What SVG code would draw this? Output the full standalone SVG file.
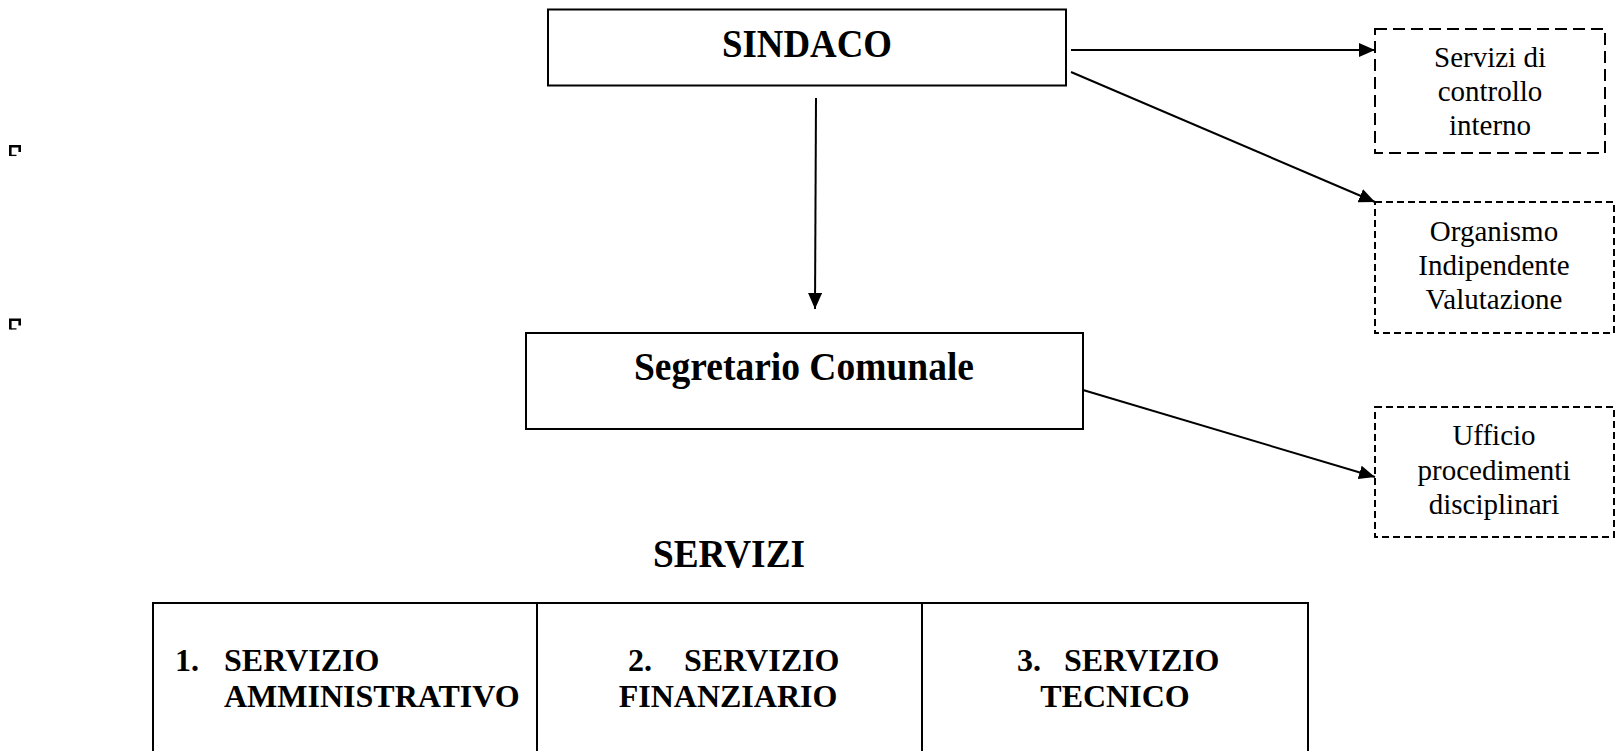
<svg xmlns="http://www.w3.org/2000/svg" width="1617" height="751" viewBox="0 0 1617 751">
<style>
.box{fill:#fff;stroke:#000;stroke-width:2}
.dash1{fill:#fff;stroke:#000;stroke-width:2;stroke-dasharray:12 6}
.dash2{fill:#fff;stroke:#000;stroke-width:2;stroke-dasharray:7 4}
.big{font-family:"Liberation Serif","Times New Roman",serif;font-weight:bold;fill:#000}
.small{font-family:"Liberation Serif","Times New Roman",serif;font-size:29px;fill:#000;text-anchor:middle}
.tab{font-family:"Liberation Serif","Times New Roman",serif;font-weight:bold;font-size:32px;fill:#000}
.conn{stroke:#000;stroke-width:2;fill:none}
.mark{stroke:#000;fill:none}
</style>
<defs>
<marker id="arr" markerUnits="userSpaceOnUse" markerWidth="16" markerHeight="14" refX="16" refY="7" orient="auto">
<path d="M0 0 L16 7 L0 14 Z" fill="#000"/>
</marker>
</defs>
<rect width="1617" height="751" fill="#fff"/>

<g id="marks">
<path class="mark" stroke-width="2.6" d="M10.3 156 V146.3 H19.7 V152"/>
<path class="mark" stroke-width="1.3" d="M11 155.4 H16.5"/>
<path class="mark" stroke-width="2.6" d="M10.3 329.5 V319.8 H19.7 V325.5"/>
<path class="mark" stroke-width="1.3" d="M11 328.9 H16.5"/>
</g>

<g id="sindaco">
<rect class="box" x="548" y="9.5" width="518" height="76"/>
<text class="big" x="807" y="57" font-size="39" text-anchor="middle" textLength="170" lengthAdjust="spacingAndGlyphs">SINDACO</text>
</g>

<g id="segretario">
<rect class="box" x="526" y="333" width="557" height="96"/>
<text class="big" x="804" y="380" font-size="40" text-anchor="middle" textLength="340" lengthAdjust="spacingAndGlyphs">Segretario Comunale</text>
</g>

<g id="controllo">
<rect class="dash1" x="1375" y="29" width="230" height="124"/>
<text class="small" x="1490" y="67">Servizi di</text>
<text class="small" x="1490" y="101">controllo</text>
<text class="small" x="1490" y="135">interno</text>
</g>

<g id="oiv">
<rect class="dash2" x="1375" y="202" width="239" height="131"/>
<text class="small" x="1494" y="241">Organismo</text>
<text class="small" x="1494" y="275">Indipendente</text>
<text class="small" x="1494" y="309">Valutazione</text>
</g>

<g id="upd">
<rect class="dash2" x="1375" y="407" width="239" height="130"/>
<text class="small" x="1494" y="445">Ufficio</text>
<text class="small" x="1494" y="480">procedimenti</text>
<text class="small" x="1494" y="514">disciplinari</text>
</g>

<g id="servizi-title">
<text class="big" x="729" y="567" font-size="39" text-anchor="middle" textLength="152" lengthAdjust="spacingAndGlyphs">SERVIZI</text>
</g>

<g id="servizi-table">
<path class="conn" d="M153 751 V603 H1308 V751 M537 603 V751 M922 603 V751"/>
</g>

<g id="servizio-1">
<text class="tab" x="175" y="671">1.</text>
<text class="tab" x="224" y="671">SERVIZIO</text>
<text class="tab" x="224" y="707">AMMINISTRATIVO</text>
</g>

<g id="servizio-2">
<text class="tab" x="628" y="671">2.</text>
<text class="tab" x="684" y="671">SERVIZIO</text>
<text class="tab" x="728" y="707" text-anchor="middle">FINANZIARIO</text>
</g>

<g id="servizio-3">
<text class="tab" x="1017" y="671">3.</text>
<text class="tab" x="1064" y="671">SERVIZIO</text>
<text class="tab" x="1115" y="707" text-anchor="middle">TECNICO</text>
</g>

<g id="connectors">
<line class="conn" x1="816" y1="98" x2="815" y2="309" marker-end="url(#arr)"/>
<line class="conn" x1="1071" y1="50" x2="1375" y2="50" marker-end="url(#arr)"/>
<line class="conn" x1="1071" y1="72" x2="1375" y2="202" marker-end="url(#arr)"/>
<line class="conn" x1="1083" y1="390" x2="1375" y2="477" marker-end="url(#arr)"/>
</g>
</svg>
